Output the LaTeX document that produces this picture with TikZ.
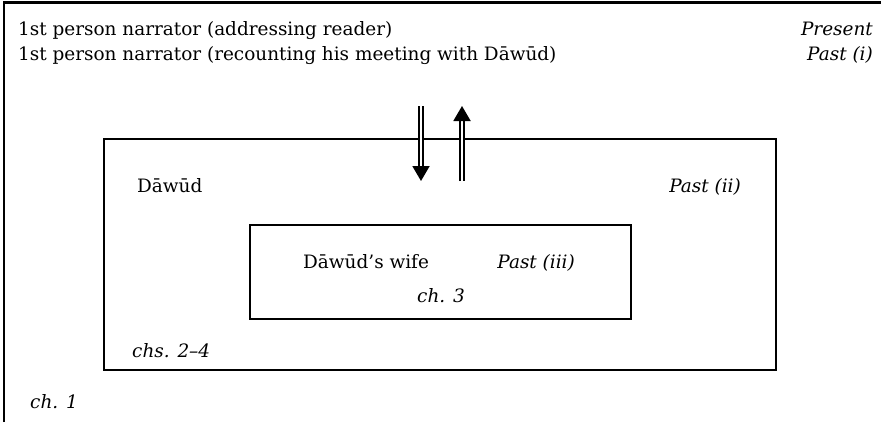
\documentclass[tikz,border=0pt]{standalone}
\usepackage{fontspec}
\setmainfont{DejaVu Serif}
\usetikzlibrary{arrows.meta}
\begin{document}
\begin{tikzpicture}[x=1bp,y=1bp,
  txt/.style={inner sep=0pt, font=\fontsize{18.5}{22}\selectfont},
  itxt/.style={txt, font=\fontsize{18.5}{22}\selectfont\itshape},
  frame/.style={draw, line width=2.4bp, inner sep=0pt, anchor=south west},
  dbl/.style={double, double distance=2.4bp, line width=1.9bp, -{Triangle[length=15bp,width=17bp]}}]
\useasboundingbox (0,0) rectangle (881,422);
% outer frame (only left and top edges visible)
\coordinate (ofb) at (4,0);
\coordinate (oftl) at (4,419.5);
\coordinate (ofr) at (881,419.5);
\draw[line width=2.6bp] (ofb) -- (oftl) -- (ofr);
% boxes
\node[frame, minimum width=672bp, minimum height=231bp] (mid) at (103,51) {};
\node[frame, minimum width=381bp, minimum height=94bp] (inner) at (249,102) {};
% texts
\node[txt, anchor=base west] (n1) at (18,387) {1st person narrator (addressing reader)};
\node[itxt, anchor=base east] (t1) at (873,387) {Present};
\node[txt, anchor=base west] (n2) at (18,362) {1st person narrator (recounting his meeting with Dāwūd)};
\node[itxt, anchor=base east] (t2) at (873,362) {Past (i)};
\node[txt, anchor=base west] (d) at (137,230) {Dāwūd};
\node[itxt, anchor=base east] (t3) at (741,230) {Past (ii)};
\node[txt, anchor=base west] (w) at (303,154) {Dāwūd’s wife};
\node[itxt, anchor=base east] (t4) at (575,154) {Past (iii)};
\node[itxt, anchor=base] (c3) at (441,120) {ch. 3};
\node[itxt, anchor=base west] (c24) at (132,65) {chs. 2–4};
\node[itxt, anchor=base west] (c1) at (30,14) {ch. 1};
% arrows
\coordinate (dtop) at (421,316);
\coordinate (dbot) at (421,241);
\coordinate (ubot) at (462,241);
\coordinate (utop) at (462,316);
\draw[dbl] (dtop) -- (dbot);
\draw[dbl] (ubot) -- (utop);
\end{tikzpicture}
\end{document}
